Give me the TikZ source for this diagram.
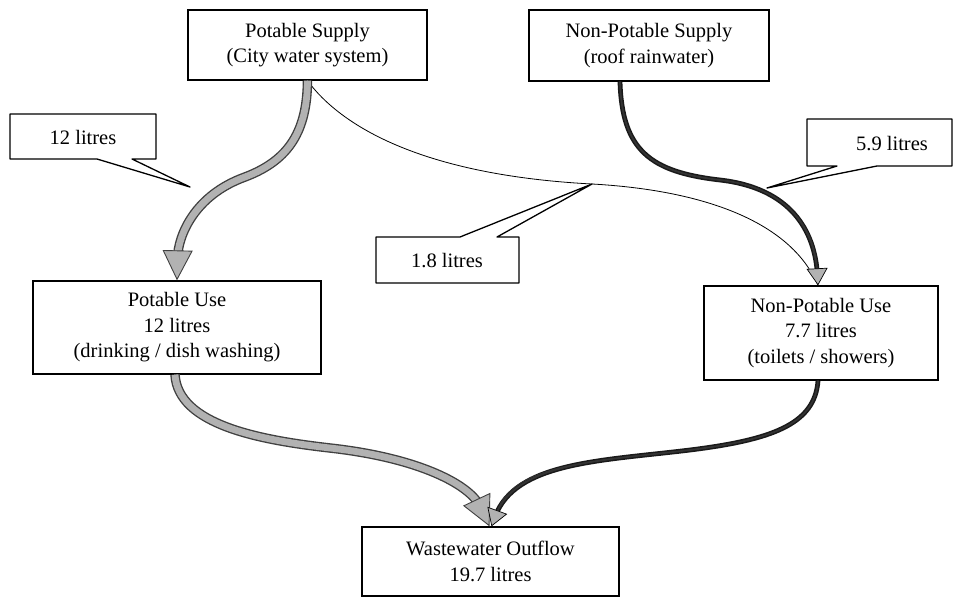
\documentclass[tikz,border=0pt]{standalone}
\usepackage{fontspec}
\setmainfont{Liberation Serif}
\usetikzlibrary{arrows.meta}
\begin{document}
\begin{tikzpicture}[x=1pt,y=-1pt,
  txt/.style={font=\fontsize{20.5}{25.5}\selectfont},
  box/.style={txt, draw, line width=1.3pt, rectangle, inner sep=0pt, align=center},
  lbl/.style={txt, inner sep=0pt},
  callout/.style={draw, line width=1.3pt, line join=round},
  bandout/.style={line width=9.5pt, draw=black!75, shorten >=22pt},
  bandin/.style={line width=6.8pt, draw=gray!60, shorten >=22pt},
  graytip/.style={line width=0.9pt, draw=gray!60, -{Triangle[length=30pt,width=30pt,color=black!75,fill=gray!60]}},
  darkout/.style={line width=4.8pt, draw=black!90, shorten >=10pt},
  darkin/.style={line width=1.8pt, draw=gray!40!black, shorten >=10pt},
  darktip/.style={line width=0.7pt, draw=gray!40!black, -{Triangle[length=17pt,width=21pt,color=black,fill=gray!60]}},
  thin/.style={line width=0.8pt, draw=black}
]
\useasboundingbox (0,0) rectangle (956,597);

% boxes
\node[box, minimum width=239pt, minimum height=70pt] (ps) at (307.5,45) {Potable Supply\\(City water system)};
\node[box, minimum width=240pt, minimum height=71pt] (nps) at (649,45.5) {Non-Potable Supply\\(roof rainwater)};
\node[box, minimum width=288pt, minimum height=93pt] (pu) at (177,327.5) {Potable Use\\12 litres\\(drinking / dish washing)};
\node[box, minimum width=234pt, minimum height=94pt] (npu) at (821,333) {Non-Potable Use\\7.7 litres\\(toilets / showers)};
\node[box, minimum width=257pt, minimum height=69pt] (ww) at (490.5,561.5) {Wastewater Outflow\\19.7 litres};

% callouts
\draw[callout] (10,114) -- (156,114) -- (156,159) -- (132,159) -- (190,187) -- (97,159) -- (10,159) -- cycle;
\node[lbl] (c12) at (83,137) {12 litres};
\draw[callout] (376,237) -- (460,237) -- (592,184) -- (497,237) -- (519,237) -- (519,283) -- (376,283) -- cycle;
\node[lbl] (c18) at (447,261) {1.8 litres};
\draw[callout] (807,119) -- (952,119) -- (952,166) -- (877,166) -- (767,188) -- (837,166) -- (807,166) -- cycle;
\node[lbl] (c59) at (892,144) {5.9 litres};

% thin line: potable supply -> non-potable use
\draw[thin] (ps.south) .. controls (340,125) and (420,175) .. (592,184)
  .. controls (700,190) and (790,220) .. ([xshift=-3pt]npu.north);

% gray: potable supply -> potable use
\foreach \s in {bandout,bandin,graytip}
  \draw[\s] (ps.south) .. controls (307,130) and (290,160) .. (245,177)
    .. controls (195,195) and (178,235) .. (pu.north);

% dark: non-potable supply -> non-potable use
\foreach \s in {darkout,darkin,darktip}
  \draw[\s] ([xshift=-29pt]nps.south) .. controls (622,150) and (650,172) .. (720,180)
    .. controls (790,188) and (815,230) .. ([xshift=-3pt]npu.north);

% gray: potable use -> wastewater
\foreach \s in {bandout,bandin,graytip}
  \draw[\s] ([xshift=-2pt]pu.south) .. controls (178,425) and (260,440) .. (330,448)
    .. controls (420,458) and (470,485) .. ([xshift=-1pt]ww.north);

% dark: non-potable use -> wastewater
\foreach \s in {darkout,darkin,darktip}
  \draw[\s] ([xshift=-3pt]npu.south) .. controls (815,425) and (770,440) .. (690,450)
    .. controls (600,461) and (515,462) .. ([xshift=1pt]ww.north);
\end{tikzpicture}
\end{document}
